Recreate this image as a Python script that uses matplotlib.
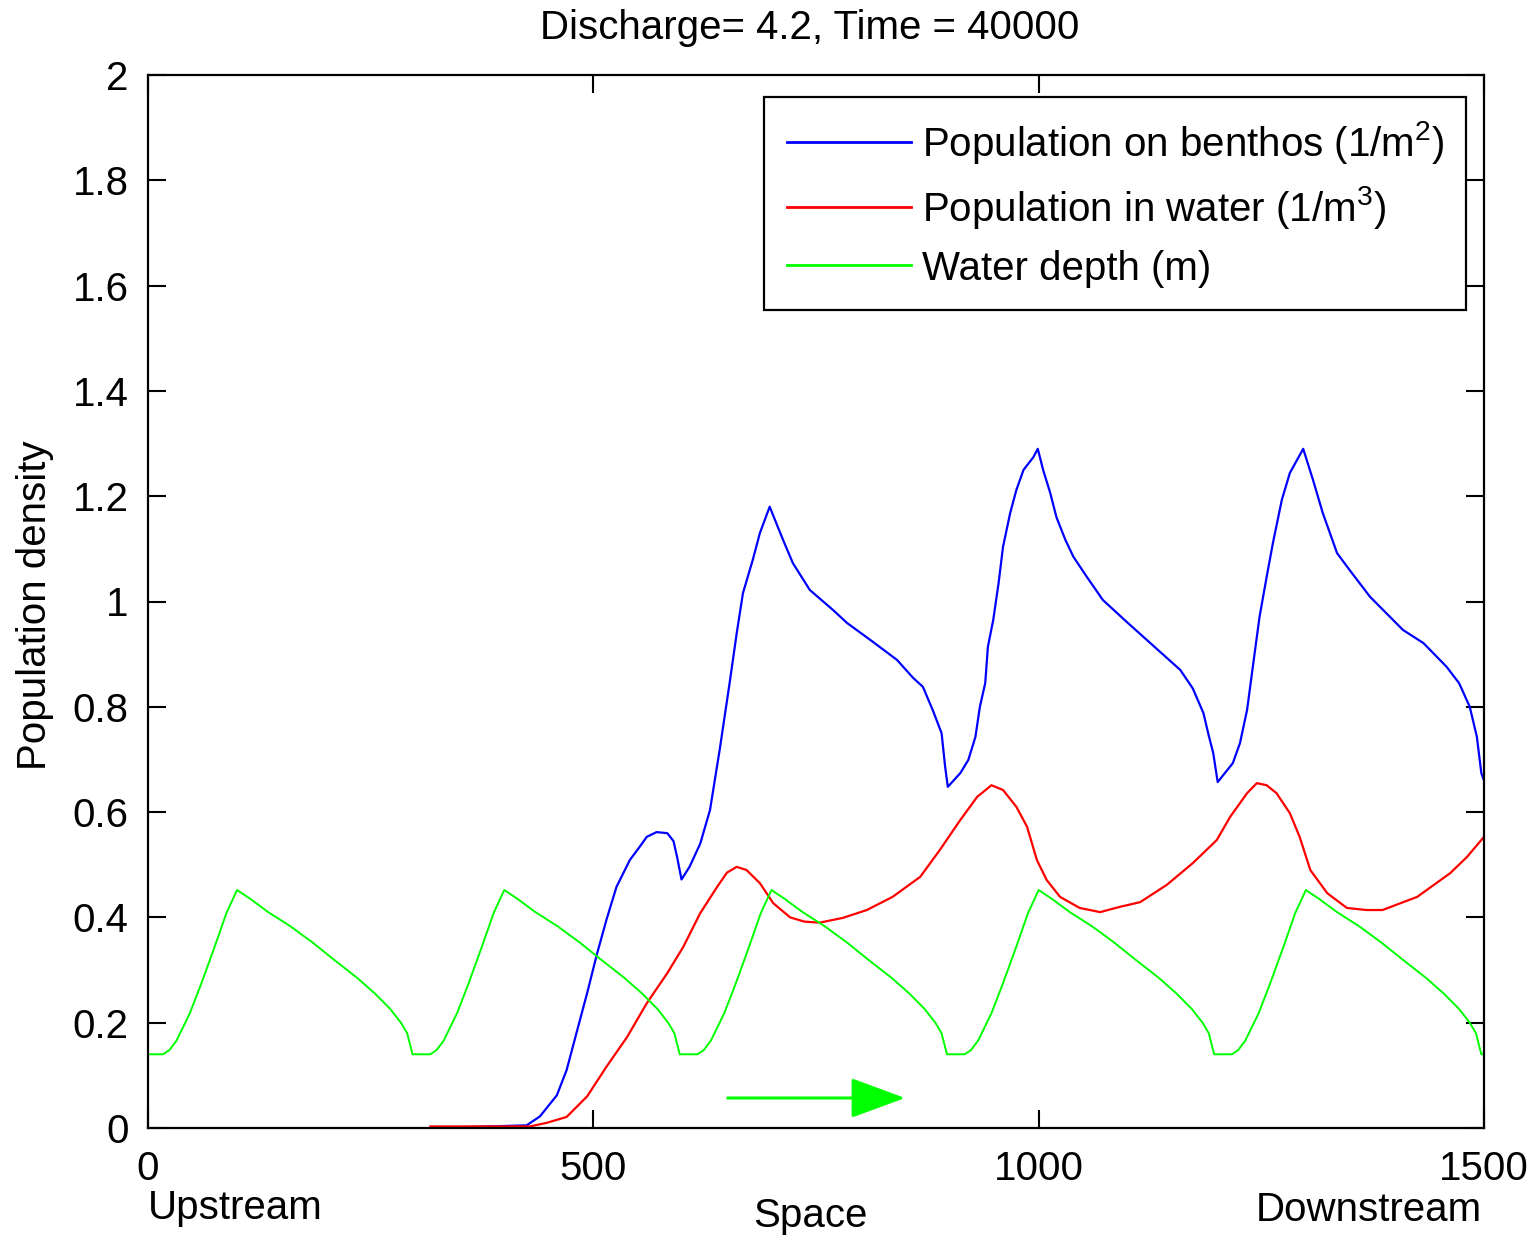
import matplotlib
matplotlib.use("Agg")
import matplotlib.pyplot as plt

# ---- data ------------------------------------------------------------------
depth_x = [0, 17, 24, 32, 47, 60, 75, 88, 100, 115, 135, 160, 185, 210, 235, 255, 272, 284, 291, 297,
           317, 324, 332, 347, 360, 375, 388, 400, 415, 435, 460, 485, 510, 535, 555, 572, 584, 591, 597,
           617, 624, 632, 647, 660, 675, 688, 700, 715, 735, 760, 785, 810, 835, 855, 872, 884, 891, 897,
           917, 924, 932, 947, 960, 975, 988, 1000, 1015, 1035, 1060, 1085, 1110, 1135, 1155, 1172, 1184, 1191, 1197,
           1217, 1224, 1232, 1247, 1260, 1275, 1288, 1300, 1315, 1335, 1360, 1385, 1410, 1435, 1455, 1472, 1484, 1491, 1497,
           1500]
depth_y = [0.14, 0.14, 0.148, 0.166, 0.218, 0.275, 0.345, 0.408, 0.452, 0.435, 0.41, 0.383, 0.352, 0.318, 0.285, 0.255, 0.226, 0.200, 0.180, 0.14,
           0.14, 0.148, 0.166, 0.218, 0.275, 0.345, 0.408, 0.452, 0.435, 0.41, 0.383, 0.352, 0.318, 0.285, 0.255, 0.226, 0.200, 0.180, 0.14,
           0.14, 0.148, 0.166, 0.218, 0.275, 0.345, 0.408, 0.452, 0.435, 0.41, 0.383, 0.352, 0.318, 0.285, 0.255, 0.226, 0.200, 0.180, 0.14,
           0.14, 0.148, 0.166, 0.218, 0.275, 0.345, 0.408, 0.452, 0.435, 0.41, 0.383, 0.352, 0.318, 0.285, 0.255, 0.226, 0.200, 0.180, 0.14,
           0.14, 0.148, 0.166, 0.218, 0.275, 0.345, 0.408, 0.452, 0.435, 0.41, 0.383, 0.352, 0.318, 0.285, 0.255, 0.226, 0.200, 0.180, 0.14,
           0.14]

benthos_x = [317, 425, 440, 459, 470, 481, 493, 504, 515, 526, 541, 552, 560, 571, 583, 590, 594, 599, 608, 620,
             631, 642, 653, 661, 668, 679, 687, 698, 713, 724, 743, 769, 785, 811, 841, 859, 870, 881, 891, 895,
             898, 912, 921, 929, 934, 940, 943, 949, 955, 960, 968, 975, 983, 994, 999, 1005, 1013, 1020, 1030, 1039,
             1054, 1072, 1099, 1128, 1159, 1173, 1185, 1191, 1196, 1201, 1218, 1226, 1234, 1241, 1248, 1256, 1263, 1273, 1282, 1297,
             1308, 1319, 1335, 1349, 1372, 1409, 1432, 1458, 1472, 1484, 1492, 1497, 1500]
benthos_y = [0.0, 0.005, 0.022, 0.062, 0.11, 0.18, 0.256, 0.33, 0.397, 0.458, 0.509, 0.534, 0.553, 0.562, 0.56, 0.545, 0.515, 0.472, 0.496, 0.54,
             0.604, 0.72, 0.845, 0.94, 1.016, 1.079, 1.13, 1.18, 1.117, 1.073, 1.022, 0.984, 0.959, 0.927, 0.889, 0.855, 0.838, 0.794, 0.75, 0.686,
             0.648, 0.674, 0.699, 0.743, 0.8, 0.845, 0.914, 0.965, 1.035, 1.104, 1.168, 1.212, 1.25, 1.274, 1.29, 1.25, 1.206, 1.16, 1.117, 1.085,
             1.047, 1.003, 0.961, 0.917, 0.87, 0.835, 0.788, 0.745, 0.712, 0.657, 0.693, 0.731, 0.794, 0.883, 0.971, 1.047, 1.111, 1.193, 1.244, 1.29,
             1.231, 1.168, 1.092, 1.06, 1.009, 0.946, 0.921, 0.876, 0.845, 0.8, 0.743, 0.674, 0.66]

water_x = [317, 429, 448, 470, 493, 515, 538, 560, 583, 601, 620, 639, 650, 661, 672, 687, 702, 721, 737, 754,
           780, 807, 836, 867, 889, 912, 931, 947, 960, 975, 987, 998, 1009, 1024, 1046, 1069, 1091, 1114, 1144, 1173,
           1200, 1215, 1234, 1245, 1256, 1267, 1282, 1293, 1305, 1324, 1346, 1368, 1386, 1425, 1462, 1481, 1497, 1500]
water_y = [0.003, 0.003, 0.01, 0.021, 0.06, 0.117, 0.173, 0.237, 0.294, 0.344, 0.408, 0.458, 0.485, 0.496, 0.49, 0.465, 0.427, 0.40, 0.392, 0.39,
           0.399, 0.414, 0.439, 0.477, 0.528, 0.585, 0.629, 0.651, 0.642, 0.61, 0.572, 0.509, 0.471, 0.439, 0.418, 0.41, 0.42, 0.429, 0.462, 0.503,
           0.547, 0.591, 0.636, 0.655, 0.651, 0.636, 0.598, 0.553, 0.49, 0.446, 0.418, 0.414, 0.414, 0.439, 0.484, 0.515, 0.547, 0.553]

labels = ["Population on benthos (1/m$^2$)", "Population in water (1/m$^3$)", "Water depth (m)"]
x_ticks = [0, 500, 1000, 1500]
y_ticks = [0, 0.2, 0.4, 0.6, 0.8, 1.0, 1.2, 1.4, 1.6, 1.8, 2.0]
y_ticklabels = ["0", "0.2", "0.4", "0.6", "0.8", "1", "1.2", "1.4", "1.6", "1.8", "2"]

FS = 29
plt.rcParams["font.family"] = ["Liberation Sans", "DejaVu Sans"]
plt.rcParams["mathtext.fontset"] = "custom"
plt.rcParams["mathtext.rm"] = "Liberation Sans"
plt.rcParams["mathtext.default"] = "rm"
plt.rcParams["font.size"] = FS

fig = plt.figure(figsize=(15.3, 12.38), dpi=100)
ax = fig.add_axes([148 / 1530, 110 / 1238, 1336 / 1530, 1053 / 1238])

ax.plot(benthos_x, benthos_y, color="#0000ff", lw=1.6, label=labels[0])
ax.plot(water_x, water_y, color="#ff0000", lw=1.6, label=labels[1])
ax.plot(depth_x, depth_y, color="#00ff00", lw=1.4, label=labels[2])

# flow direction arrow
ax.annotate("", xy=(850, 0.057), xytext=(651, 0.057),
            arrowprops=dict(arrowstyle="-|>,head_length=0.95,head_width=0.35",
                            color="#00ff00", lw=2.2, mutation_scale=36,
                            shrinkA=0, shrinkB=0))

ax.set_xlim(0, 1500)
ax.set_ylim(0, 2)
ax.set_xticks(x_ticks)
ax.set_yticks(y_ticks, y_ticklabels)
ax.tick_params(direction="in", length=13, width=1.5, top=True, right=True,
               labelsize=FS)
ax.tick_params(axis="x", pad=16)
ax.tick_params(axis="y", pad=14)
for s in ax.spines.values():
    s.set_linewidth(1.6)

leg = ax.legend(loc="upper right", bbox_to_anchor=(0.9865, 0.979), fontsize=FS,
                frameon=True, fancybox=False, framealpha=1, edgecolor="black",
                handlelength=3.1, handletextpad=0.25, labelspacing=0.45,
                borderpad=0.55, borderaxespad=0)
leg.get_frame().set_linewidth(1.6)
for ln in leg.get_lines():
    ln.set_linewidth(2)

fig.text(0.529, 0.977, "Discharge= 4.2, Time = 40000", ha="center", va="center", fontsize=FS)
fig.text(148 / 1530, 1 - 1208 / 1238, "Upstream", ha="left", va="center", fontsize=FS)
fig.text(1482 / 1530, 1 - 1210 / 1238, "Downstream", ha="right", va="center", fontsize=FS)
fig.text(810 / 1530, 1 - 1216 / 1238, "Space", ha="center", va="center", fontsize=FS)
fig.text(35 / 1530, 1 - 605 / 1238, "Population density", ha="center", va="center",
         rotation=90, fontsize=FS)

fig.savefig("out.png", dpi=100)
